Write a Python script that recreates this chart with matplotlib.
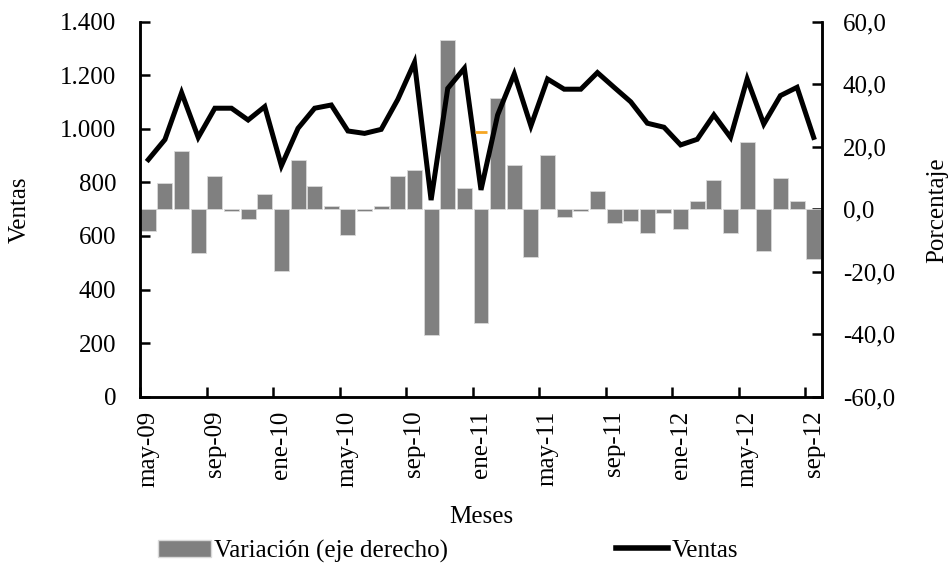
import matplotlib
matplotlib.use("Agg")
import matplotlib.pyplot as plt
from matplotlib.ticker import FuncFormatter, FixedLocator
from matplotlib.patches import Patch
from matplotlib.lines import Line2D

plt.rcParams['font.family'] = ['Liberation Serif', 'DejaVu Serif']

# --- datos -------------------------------------------------------
meses_es = ['ene', 'feb', 'mar', 'abr', 'may', 'jun',
            'jul', 'ago', 'sep', 'oct', 'nov', 'dic']
periodos = [f"{meses_es[(4 + i) % 12]}-{9 + (4 + i) // 12:02d}" for i in range(41)]

ventas = [885, 960, 1135, 968, 1077, 1077, 1033, 1083, 862, 1002,
          1077, 1089, 992, 983, 998, 1110, 1248, 734, 1151, 1226,
          772, 1052, 1205, 1011, 1186, 1148, 1148, 1210, 1155, 1101,
          1021, 1006, 940, 961, 1052, 968, 1186, 1018, 1124, 1155,
          968]

variacion = [-6.9, 8.3, 18.5, -14.1, 10.7, -0.6, -3.2, 5.0, -19.8, 15.9,
             7.5, 1.1, -8.3, -0.5, 1.1, 10.7, 12.7, -40.3, 54.2, 6.9,
             -36.3, 35.6, 14.0, -15.3, 17.2, -2.6, -0.6, 5.7, -4.5, -3.8,
             -7.7, -1.2, -6.4, 2.5, 9.5, -7.7, 21.5, -13.4, 10.1, 2.5,
             -15.8]

# pequeña marca naranja que aparece en el original
marca_x = [20]
marca_y = [990]

x = list(range(len(periodos)))

# --- figura ------------------------------------------------------
fig = plt.figure(figsize=(9.49, 5.68), dpi=100)
ax = fig.add_axes([140 / 949, 171.3 / 568, 682 / 949, 375 / 568])
ax2 = ax.twinx()

ax2.bar(x, variacion, width=0.9, color='#808080', edgecolor='#d9d9d9',
        linewidth=0.6, zorder=2)
ax.plot(x, ventas, color='black', lw=3.6, solid_joinstyle='miter', zorder=3)
ax.plot(marca_x, marca_y, marker='_', color='#F5A623', ms=8, mew=2, ls='none', zorder=3)

ax.set_zorder(ax2.get_zorder() + 1)
ax.patch.set_visible(False)

ax.set_xlim(-0.5, 40.5)
ax.set_ylim(0, 1400)
ax2.set_ylim(-60, 60)

FS = 18
ax.set_yticks(range(0, 1401, 200))
ax.yaxis.set_major_formatter(FuncFormatter(lambda v, p: f"{int(v):,}".replace(',', '.')))
ax2.set_yticks(range(-60, 61, 20))
ax2.yaxis.set_major_formatter(FuncFormatter(lambda v, p: f"{v:.1f}".replace('.', ',')))

# etiquetas cada 4 meses, marcas en los límites de categoría
ax.xaxis.set_major_locator(FixedLocator([i - 0.5 for i in range(0, 41, 4)]))
ax.xaxis.set_major_formatter(FuncFormatter(lambda v, p: ''))
ax.xaxis.set_minor_locator(FixedLocator(list(range(0, 41, 4))))
ax.set_xticklabels([periodos[i] for i in range(0, 41, 4)], minor=True, rotation=90)
ax.tick_params(axis='x', which='minor', length=0, pad=10, labelsize=FS)
ax.tick_params(axis='x', which='major', direction='in', length=7, width=1.8)

ax.tick_params(axis='y', direction='in', length=7, width=1.8, pad=17, labelsize=FS)
ax2.tick_params(axis='y', direction='in', length=7, width=1.8, pad=15, labelsize=FS)

for a in (ax, ax2):
    a.spines['top'].set_visible(False)
    for s in ('left', 'right', 'bottom'):
        a.spines[s].set_linewidth(1.8)

fig.text(20 / 949, 1 - 210 / 568, 'Ventas', rotation=90, ha='center', va='center', fontsize=FS)
fig.text(937 / 949, 1 - 210 / 568, 'Porcentaje', rotation=90, ha='center', va='center', fontsize=FS)
fig.text(481 / 949, 1 - 517 / 568, 'Meses', ha='center', va='center', fontsize=FS)

handles = [Patch(facecolor='#808080', edgecolor='#d9d9d9'),
           Line2D([], [], color='black', lw=4)]
fig.legend(handles, ['Variación (eje derecho)', 'Ventas'], ncol=2,
           loc='center left', bbox_to_anchor=(158 / 949, 1 - 551 / 568),
           frameon=False, fontsize=FS, handlelength=2.1, handleheight=0.7,
           handletextpad=0.15, columnspacing=6.7, borderpad=0, borderaxespad=0)

fig.savefig('out.png', dpi=100)
